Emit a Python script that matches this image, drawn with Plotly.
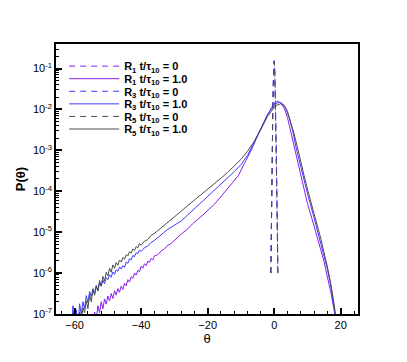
import numpy as np
import plotly.graph_objects as go

# t/tau10 = 0 : narrow initial spike (theta, log10 P)
theta_init = [-1.0, -0.9, -0.8, -0.6, -0.4, -0.2, 0.0, 0.2, 0.4, 0.6, 0.8, 1.0, 1.1]
logp_r1_init = [-6.0, -5.0, -4.2, -3.0, -1.9, -1.1, -0.80, -1.1, -1.8, -2.8, -4.0, -5.2, -6.0]
logp_r3_init = [-6.0, -5.05, -4.25, -3.05, -1.95, -1.12, -0.82, -1.12, -1.85, -2.85, -4.05, -5.25, -6.0]
logp_r5_init = [-6.0, -5.1, -4.3, -3.1, -2.0, -1.15, -0.84, -1.15, -1.9, -2.9, -4.1, -5.3, -6.0]

# t/tau10 = 1.0
theta_r1 = [-55.5, -55.0, -54.5, -54.0, -53.5, -53.0, -52.5, -52.0, -51.5, -51.0, -50.5,
            -50.0, -49.5, -49.0, -48.5, -48.0, -47.5, -47.0, -46.5, -46.0, -45.5, -45.0,
            -44.5, -44.0, -43.5, -43.0, -42.5, -42.0, -41.5, -41.0, -40.5, -40.0, -39.5,
            -39.0, -38.5, -38.0, -37.5, -37.0, -36.5, -36.0, -35.0, -34.0, -33.0, -32.0,
            -31.0, -30.0, -28.0, -26.0, -24.6, -22.0, -20.0, -18.0, -15.7, -13.0, -10.8,
            -8.5, -6.8, -5.0, -3.0, -1.0, 0.3, 1.1, 2.0, 3.0, 4.0, 5.0, 6.0, 7.0, 8.0,
            10.0, 12.0, 14.0, 15.0, 16.0, 17.0, 18.0, 18.3]
logp_r1 = [-7.4, -7.05, -7.3, -6.95, -7.12, -6.8, -6.97, -6.7, -6.87, -6.63, -6.76,
           -6.56, -6.68, -6.5, -6.62, -6.43, -6.54, -6.38, -6.47, -6.32, -6.4, -6.25,
           -6.31, -6.16, -6.22, -6.09, -6.13, -6.0, -6.05, -5.93, -5.97, -5.83, -5.88,
           -5.77, -5.82, -5.71, -5.74, -5.64, -5.68, -5.58, -5.55, -5.46, -5.41, -5.32,
           -5.28, -5.2, -5.05, -4.92, -4.8, -4.62, -4.47, -4.32, -4.1, -3.85, -3.62,
           -3.25, -2.98, -2.65, -2.3, -1.98, -1.83, -1.80, -1.84, -1.97, -2.2, -2.55,
           -2.93, -3.3, -3.65, -4.3, -4.85, -5.45, -5.72, -6.1, -6.45, -6.9, -7.05]

theta_r3 = [-61.0, -60.5, -60.0, -59.5, -59.0, -58.5, -58.0, -57.5, -57.0, -56.5, -56.0,
            -55.5, -55.0, -54.5, -54.0, -53.5, -53.0, -52.5, -52.0, -51.5, -51.0, -50.5,
            -50.0, -49.5, -49.0, -48.5, -48.0, -47.5, -47.0, -46.5, -46.0, -45.5, -45.0,
            -44.5, -44.0, -43.5, -43.0, -42.5, -42.0, -41.5, -41.0, -40.5, -40.0, -39.0,
            -38.0, -37.0, -36.0, -34.0, -32.0, -30.0, -28.0, -26.0, -24.0, -22.0, -20.0,
            -18.0, -16.0, -14.0, -12.0, -10.0, -8.0, -6.0, -4.0, -2.0, 0.0, 1.0, 1.6,
            2.5, 3.5, 4.5, 5.5, 6.5, 8.0, 9.0, 10.0, 12.0, 14.0, 16.0, 17.0, 18.0, 18.4]
logp_r3 = [-7.5, -6.8, -7.4, -6.9, -7.3, -6.75, -7.0, -6.7, -6.88, -6.55, -6.72,
           -6.45, -6.57, -6.38, -6.5, -6.3, -6.42, -6.24, -6.32, -6.17, -6.26, -6.11,
           -6.16, -6.04, -6.1, -5.97, -6.03, -5.92, -5.96, -5.85, -5.9, -5.82, -5.86,
           -5.73, -5.76, -5.65, -5.68, -5.57, -5.6, -5.5, -5.53, -5.44, -5.47, -5.38,
           -5.34, -5.25, -5.2, -5.06, -4.93, -4.83, -4.73, -4.58, -4.43, -4.28, -4.13,
           -3.98, -3.82, -3.67, -3.52, -3.35, -3.12, -2.8, -2.47, -2.12, -1.9, -1.84,
           -1.83, -1.86, -1.98, -2.2, -2.5, -2.9, -3.4, -3.75, -4.05, -4.65, -5.25,
           -5.9, -6.3, -6.8, -7.05]

theta_r5 = [-60.0, -59.5, -59.0, -58.5, -58.0, -57.5, -57.0, -56.5, -56.0, -55.5, -55.0,
            -54.5, -54.0, -53.5, -53.0, -52.5, -52.0, -51.5, -51.0, -50.5, -50.0, -49.5,
            -49.0, -48.5, -48.0, -47.5, -47.0, -46.5, -46.0, -45.5, -45.0, -44.5, -44.0,
            -43.5, -43.0, -42.5, -42.0, -41.5, -41.0, -40.5, -40.0, -39.0, -38.0, -37.0,
            -36.0, -34.0, -32.0, -30.0, -28.0, -26.0, -24.0, -22.0, -20.0, -18.0, -16.0,
            -14.0, -12.0, -10.0, -8.0, -6.0, -4.0, -2.0, 0.0, 1.0, 2.0, 3.0, 4.0, 5.0,
            6.0, 7.0, 8.0, 9.0, 10.0, 12.0, 14.0, 16.0, 17.0, 18.0, 18.5]
logp_r5 = [-7.3, -7.1, -7.2, -6.95, -7.15, -6.85, -6.97, -6.68, -6.87, -6.53, -6.7,
           -6.4, -6.54, -6.33, -6.44, -6.18, -6.32, -6.08, -6.19, -5.98, -6.07, -5.88,
           -5.98, -5.8, -5.88, -5.74, -5.81, -5.68, -5.73, -5.62, -5.66, -5.55, -5.58,
           -5.48, -5.51, -5.41, -5.45, -5.35, -5.38, -5.28, -5.32, -5.22, -5.18, -5.08,
           -5.03, -4.9, -4.76, -4.62, -4.49, -4.35, -4.22, -4.08, -3.95, -3.82, -3.68,
           -3.54, -3.39, -3.22, -3.02, -2.78, -2.48, -2.17, -1.95, -1.89, -1.86, -1.9,
           -2.05, -2.3, -2.6, -2.93, -3.3, -3.62, -3.95, -4.55, -5.15, -5.85, -6.25,
           -6.75, -7.05]

x_ticks = [-60, -40, -20, 0, 20]
y_exponents = [-7, -6, -5, -4, -3, -2, -1]

PURPLE = "#8a1cf5"
BLUE = "#3c3cff"
GRAY = "#4d4d4d"
FONT = "Liberation Sans, Arial, sans-serif"

series = [
    ("R<sub>1</sub> t/τ<sub>10</sub> = 0", theta_init, logp_r1_init, PURPLE, "6px,5px"),
    ("R<sub>1</sub> t/τ<sub>10</sub> = 1.0", theta_r1, logp_r1, PURPLE, "solid"),
    ("R<sub>3</sub> t/τ<sub>10</sub> = 0", theta_init, logp_r3_init, BLUE, "6px,5px"),
    ("R<sub>3</sub> t/τ<sub>10</sub> = 1.0", theta_r3, logp_r3, BLUE, "solid"),
    ("R<sub>5</sub> t/τ<sub>10</sub> = 0", theta_init, logp_r5_init, GRAY, "6px,5px"),
    ("R<sub>5</sub> t/τ<sub>10</sub> = 1.0", theta_r5, logp_r5, GRAY, "solid"),
]

# the page body adds an 8px margin, so the figure is drawn 8px in from the corner
W, H = 391, 346
ML, MR, MT, MB = 45, 41, 36, 33
plot_h = H - MT - MB

fig = go.Figure()
legends = {}
for i, (name, th, lp, color, dash) in enumerate(series):
    key = "legend" if i == 0 else f"legend{i + 1}"
    fig.add_trace(go.Scatter(
        x=th,
        y=10 ** np.array(lp),
        mode="lines",
        name=f"<b>{name}</b>",
        line=dict(color=color, width=1, dash=dash),
        legend=key,
        showlegend=True,
    ))
    # one small legend per row, so the rows can sit 13px apart
    legends[key] = dict(
        x=0.027,
        y=(plot_h - (22.7 + 12.9 * i)) / plot_h,
        xanchor="left",
        yanchor="middle",
        bgcolor="rgba(0,0,0,0)",
        borderwidth=0,
        itemwidth=50,
        font=dict(family=FONT, size=11, color="black"),
    )

fig.update_layout(
    width=W,
    height=H,
    margin=dict(l=ML, r=MR, t=MT, b=MB),
    paper_bgcolor="white",
    plot_bgcolor="white",
    showlegend=True,
    font=dict(family=FONT, size=11, color="black"),
    **legends,
)

fig.update_xaxes(
    range=[-65.6, 25.2],
    tickvals=x_ticks,
    ticks="inside",
    ticklen=6,
    tickwidth=1.5,
    tickcolor="black",
    minor=dict(ticks="inside", ticklen=3, dtick=4, tickcolor="black", tickwidth=1),
    showgrid=False,
    zeroline=False,
    showline=True,
    linecolor="black",
    linewidth=1.5,
    mirror=True,
    title=dict(text="θ", font=dict(size=13), standoff=2),
)

fig.update_yaxes(
    type="log",
    range=[-7, -0.4],
    tickvals=[10.0 ** e for e in y_exponents],
    ticktext=[f"10<sup>{e}</sup>" for e in y_exponents],
    ticks="inside",
    ticklen=6,
    tickwidth=1.5,
    tickcolor="black",
    minor=dict(ticks="inside", ticklen=3, tickcolor="black", tickwidth=1, dtick="D1"),
    showgrid=False,
    zeroline=False,
    showline=True,
    linecolor="black",
    linewidth=1.5,
    mirror=True,
    title=dict(text="<b>P(θ)</b>", font=dict(size=13), standoff=4),
)

fig.write_html("out.html")
